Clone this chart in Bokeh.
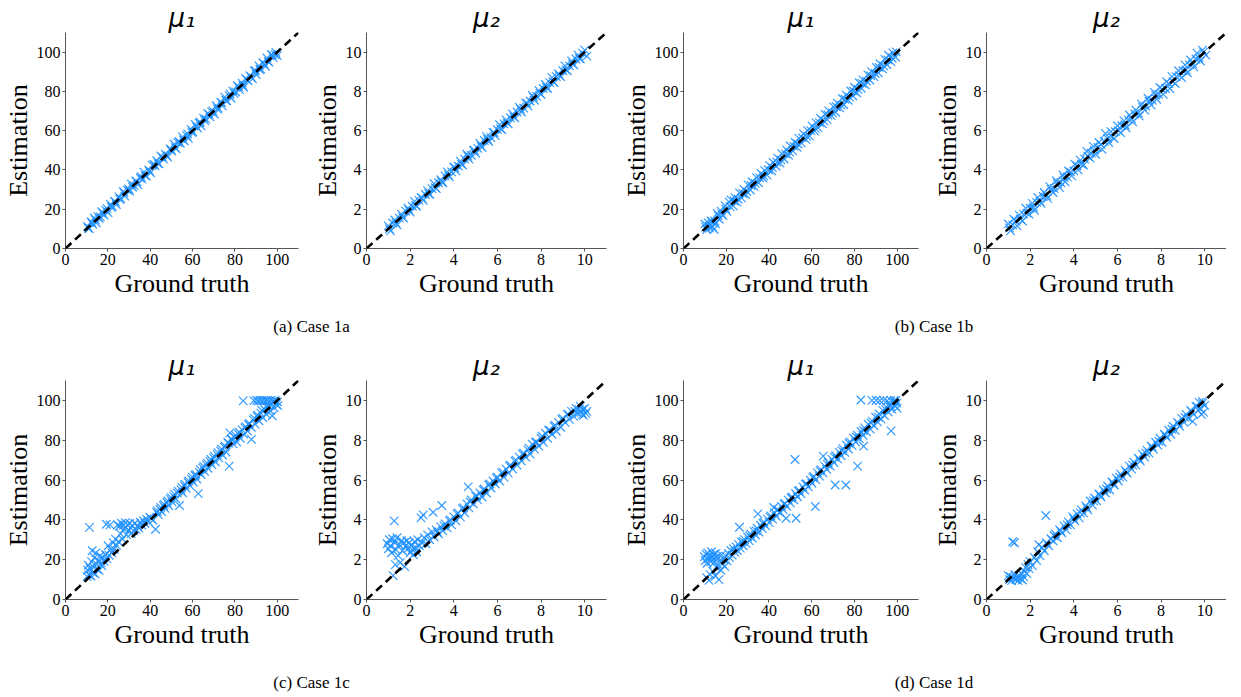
from bokeh.plotting import figure
from bokeh.models import Range1d, FixedTicker, Slope, Div
from bokeh.layouts import row, column
from bokeh.embed import file_html
from bokeh.resources import INLINE

# ---------------- data (ground truth, estimation) ----------------
titles_top = ["μ₁", "μ₂", "μ₁", "μ₂"]
captions = ["(a) Case 1a", "(b) Case 1b", "(c) Case 1c", "(d) Case 1d"]
ticks_mu1 = [0, 20, 40, 60, 80, 100]
ticks_mu2 = [0, 2, 4, 6, 8, 10]

case1a_mu1 = [(10.4, 11.2), (11.2, 10.1), (12.1, 13.6), (12.9, 12.3), (13.6, 15.6), (14.5, 13.1), (15.3, 16.2),
              (16.4, 16.1), (17.1, 18.7), (18.2, 17.0), (19.0, 19.4), (20.1, 18.3), (21.2, 22.5), (22.0, 21.5),
              (23.1, 24.0), (24.0, 22.4), (25.2, 26.3), (26.1, 25.4), (27.3, 29.1), (28.0, 26.7), (29.2, 29.7),
              (30.3, 29.3), (31.1, 32.8), (32.4, 32.0), (33.2, 34.4), (34.1, 32.6), (35.3, 35.9), (36.2, 35.3),
              (37.0, 38.9), (38.1, 36.9), (39.3, 40.0), (40.2, 38.5), (41.0, 42.4), (42.3, 42.1), (43.1, 44.7),
              (44.2, 43.1), (45.0, 47.1), (46.3, 45.5), (47.1, 48.1), (48.2, 46.6), (49.4, 50.7), (50.1, 49.6),
              (51.3, 53.1), (52.2, 50.8), (53.0, 53.9), (54.2, 53.6), (55.3, 56.8), (56.1, 54.8), (57.2, 57.5),
              (58.0, 56.1), (59.3, 60.7), (60.1, 59.4), (61.2, 63.2), (62.4, 61.3), (63.1, 63.9), (64.0, 62.5),
              (65.2, 66.4), (66.3, 65.9), (67.1, 68.8), (68.2, 67.0), (69.0, 69.6), (70.3, 68.5), (71.2, 72.7),
              (72.1, 71.5), (73.3, 74.4), (74.0, 72.6), (75.2, 77.1), (76.1, 75.2), (77.3, 77.7), (78.2, 76.5),
              (79.0, 80.3), (80.3, 79.8), (81.1, 82.9), (82.2, 80.9), (83.4, 84.2), (84.1, 82.1), (85.0, 86.6),
              (86.2, 85.4), (87.1, 88.0), (88.3, 86.4), (89.2, 90.4), (90.0, 88.6), (91.3, 93.0), (92.1, 91.4),
              (93.2, 94.6), (94.4, 92.8), (95.1, 97.0), (96.0, 94.9), (97.2, 98.7), (98.1, 97.2), (99.3, 99.8),
              (100.0, 98.2)]
case1a_mu1_more = [(10.8, 10.3), (12.5, 13.0), (14.1, 14.6), (15.9, 15.2), (17.6, 17.9), (19.6, 20.3), (21.7, 21.0),
                   (23.5, 23.9), (25.6, 25.0), (27.6, 28.2), (29.8, 30.4), (31.7, 31.2), (33.7, 34.0), (35.7, 36.6),
                   (37.6, 37.1), (39.7, 39.3), (41.8, 42.9), (43.7, 43.2), (45.8, 46.4), (47.7, 47.3), (49.9, 50.2),
                   (51.8, 51.4), (53.6, 54.5), (55.7, 55.2), (57.7, 58.4), (59.7, 59.1), (61.8, 62.1), (63.6, 64.3),
                   (65.7, 65.1), (67.7, 68.3), (69.6, 70.1), (71.7, 71.0), (73.7, 74.3), (75.7, 75.5), (77.8, 78.6),
                   (79.6, 79.0), (81.7, 82.4), (83.7, 83.1), (85.7, 86.0), (87.6, 87.2), (89.7, 90.6), (91.7, 91.1),
                   (93.7, 94.0), (95.7, 95.2), (97.6, 98.5), (99.0, 98.6)]

case1a_mu2 = [(1.0, 1.15), (1.1, 0.9), (1.3, 1.45), (1.4, 1.2), (1.6, 1.75), (1.7, 1.55), (1.9, 2.05), (2.0, 1.85),
              (2.2, 2.4), (2.3, 2.15), (2.5, 2.6), (2.6, 2.45), (2.8, 2.95), (2.9, 2.75), (3.1, 3.3), (3.2, 3.05),
              (3.4, 3.5), (3.5, 3.35), (3.7, 3.9), (3.8, 3.65), (4.0, 4.15), (4.1, 3.95), (4.3, 4.45), (4.4, 4.25),
              (4.6, 4.8), (4.7, 4.55), (4.9, 5.0), (5.0, 4.85), (5.2, 5.35), (5.3, 5.15), (5.5, 5.7), (5.6, 5.45),
              (5.8, 5.9), (5.9, 5.75), (6.1, 6.3), (6.2, 6.05), (6.4, 6.55), (6.5, 6.35), (6.7, 6.85), (6.8, 6.65),
              (7.0, 7.2), (7.1, 6.95), (7.3, 7.4), (7.4, 7.25), (7.6, 7.8), (7.7, 7.55), (7.9, 8.05), (8.0, 7.85),
              (8.2, 8.35), (8.3, 8.15), (8.5, 8.7), (8.6, 8.45), (8.8, 8.9), (8.9, 8.75), (9.1, 9.3), (9.2, 9.05),
              (9.4, 9.55), (9.5, 9.35), (9.7, 9.85), (9.8, 9.65), (10.0, 10.1), (10.1, 9.8)]
case1a_mu2_more = [(1.05, 1.0), (1.2, 1.3), (1.35, 1.3), (1.5, 1.55), (1.65, 1.6), (1.8, 1.9), (1.95, 1.95),
                   (2.1, 2.15), (2.25, 2.2), (2.4, 2.45), (2.55, 2.55), (2.7, 2.75), (2.85, 2.8), (3.0, 3.05),
                   (3.15, 3.1), (3.3, 3.35), (3.45, 3.4), (3.6, 3.7), (3.75, 3.75), (3.9, 3.9), (4.05, 4.1),
                   (4.2, 4.2), (4.35, 4.3), (4.5, 4.55), (4.65, 4.7), (4.8, 4.75), (4.95, 5.0), (5.1, 5.1),
                   (5.25, 5.2), (5.4, 5.5), (5.55, 5.55), (5.7, 5.65), (5.85, 5.9), (6.0, 6.05), (6.15, 6.1),
                   (6.3, 6.35), (6.45, 6.4), (6.6, 6.65), (6.75, 6.7), (6.9, 6.95), (7.05, 7.1), (7.2, 7.15),
                   (7.35, 7.4), (7.5, 7.5), (7.65, 7.7), (7.8, 7.75), (7.95, 7.9), (8.1, 8.15), (8.25, 8.2),
                   (8.4, 8.45), (8.55, 8.5), (8.7, 8.75), (8.85, 8.8), (9.0, 9.05), (9.15, 9.1), (9.3, 9.3),
                   (9.45, 9.4), (9.6, 9.65), (9.75, 9.7), (9.9, 9.95)]

case1b_mu1 = [(10.0, 12.5), (10.8, 9.6), (11.5, 13.2), (12.2, 10.4), (12.9, 14.0), (13.5, 11.1), (14.3, 9.8),
              (15.0, 12.6), (15.8, 17.9), (16.7, 14.9), (17.6, 19.0), (18.4, 16.8), (19.5, 21.8), (20.3, 18.9),
              (21.4, 23.6), (22.2, 24.8), (23.3, 21.7), (24.1, 25.9), (25.0, 23.6), (26.2, 28.3), (27.1, 25.8),
              (28.3, 30.1), (29.0, 27.5), (30.2, 32.4), (31.3, 29.8), (32.1, 34.0), (33.0, 31.6), (34.2, 36.1),
              (35.1, 33.5), (36.3, 38.2), (37.2, 35.9), (38.0, 39.7), (39.1, 37.4), (40.3, 42.2), (41.2, 39.6),
              (42.0, 43.8), (43.3, 41.9), (44.1, 46.0), (45.2, 43.5), (46.0, 48.3), (47.1, 45.6), (48.3, 50.1),
              (49.2, 47.4), (50.0, 52.2), (51.1, 49.7), (52.3, 54.0), (53.2, 51.5), (54.0, 56.1), (55.1, 53.8),
              (56.2, 58.4), (57.3, 55.6), (58.1, 60.0), (59.0, 57.2), (60.2, 62.3), (61.3, 59.9), (62.1, 64.0),
              (63.0, 61.4), (64.2, 66.2), (65.1, 63.5), (66.3, 68.3), (67.2, 65.6), (68.0, 70.1), (69.1, 67.8),
              (70.3, 72.1), (71.2, 69.4), (72.0, 74.0), (73.1, 71.6), (74.3, 76.4), (75.0, 73.2), (76.2, 78.1),
              (77.1, 75.5), (78.3, 80.2), (79.2, 77.8), (80.0, 82.1), (81.1, 79.3), (82.3, 84.4), (83.2, 81.6),
              (84.0, 85.9), (85.1, 83.3), (86.3, 88.4), (87.2, 85.8), (88.0, 90.1), (89.1, 87.5), (90.3, 92.2),
              (91.2, 89.4), (92.0, 94.1), (93.1, 91.5), (94.3, 96.3), (95.2, 93.7), (96.0, 98.4), (97.1, 95.2),
              (98.0, 99.6), (99.2, 97.5)]
case1b_mu1_more = [(10.4, 10.9), (11.9, 11.5), (13.2, 13.8), (14.6, 14.0), (16.2, 16.6), (17.9, 17.5), (19.8, 20.1),
                   (21.8, 21.3), (23.7, 24.2), (25.6, 25.1), (27.7, 28.0), (29.6, 29.0), (31.7, 32.1), (33.6, 33.2),
                   (35.7, 36.0), (37.6, 37.0), (39.7, 40.1), (41.6, 41.2), (43.7, 44.0), (45.6, 45.1), (47.7, 48.2),
                   (49.6, 49.1), (51.7, 52.0), (53.6, 53.2), (55.7, 56.3), (57.7, 57.1), (59.6, 60.0), (61.7, 61.2),
                   (63.6, 64.1), (65.7, 65.0), (67.6, 68.0), (69.7, 69.1), (71.6, 72.2), (73.7, 73.0), (75.6, 76.0),
                   (77.7, 77.1), (79.6, 80.2), (81.7, 81.0), (83.6, 84.1), (85.7, 85.2), (87.6, 88.0), (89.7, 89.1),
                   (91.6, 92.2), (93.7, 93.0), (95.6, 96.1), (97.6, 97.0), (99.6, 100.1)]

case1b_mu2 = [(1.0, 1.25), (1.1, 0.9), (1.25, 1.5), (1.4, 1.15), (1.5, 1.7), (1.65, 1.4), (1.8, 2.05), (1.95, 1.75),
              (2.1, 2.3), (2.2, 1.95), (2.35, 2.6), (2.5, 2.3), (2.65, 2.85), (2.8, 2.55), (2.9, 3.15), (3.05, 2.85),
              (3.2, 3.45), (3.35, 3.1), (3.5, 3.75), (3.6, 3.4), (3.75, 3.95), (3.9, 3.7), (4.05, 4.3), (4.2, 4.0),
              (4.3, 4.5), (4.45, 4.25), (4.6, 4.95), (4.75, 4.6), (4.9, 5.2), (5.0, 4.8), (5.15, 5.4), (5.3, 5.05),
              (5.45, 5.85), (5.6, 5.4), (5.7, 5.95), (5.85, 5.6), (6.0, 6.25), (6.15, 5.9), (6.3, 6.5), (6.4, 6.15),
              (6.55, 6.8), (6.7, 6.45), (6.85, 7.05), (7.0, 6.75), (7.1, 7.35), (7.25, 7.05), (7.4, 7.65), (7.55, 7.3),
              (7.7, 7.95), (7.8, 7.6), (7.95, 8.2), (8.1, 7.85), (8.25, 8.5), (8.4, 8.15), (8.5, 8.75), (8.65, 8.4),
              (8.8, 9.05), (8.95, 8.7), (9.1, 9.35), (9.2, 8.95), (9.35, 9.6), (9.5, 9.25), (9.65, 9.95), (9.8, 9.55),
              (9.9, 10.1), (10.05, 9.85)]
case1b_mu2_more = [(1.05, 1.05), (1.2, 1.2), (1.35, 1.4), (1.55, 1.5), (1.7, 1.75), (1.85, 1.8), (2.0, 2.05),
                   (2.15, 2.1), (2.3, 2.35), (2.45, 2.4), (2.6, 2.65), (2.75, 2.7), (2.95, 3.0), (3.1, 3.05),
                   (3.25, 3.3), (3.4, 3.35), (3.55, 3.6), (3.7, 3.65), (3.85, 3.9), (4.0, 3.95), (4.15, 4.2),
                   (4.35, 4.3), (4.5, 4.55), (4.65, 4.7), (4.8, 4.85), (4.95, 5.0), (5.1, 5.15), (5.25, 5.3),
                   (5.4, 5.45), (5.55, 5.6), (5.75, 5.7), (5.9, 5.95), (6.05, 6.0), (6.2, 6.25), (6.35, 6.3),
                   (6.5, 6.55), (6.65, 6.6), (6.8, 6.85), (6.95, 6.9), (7.15, 7.2), (7.3, 7.25), (7.45, 7.5),
                   (7.6, 7.55), (7.75, 7.8), (7.9, 7.85), (8.05, 8.1), (8.2, 8.15), (8.35, 8.4), (8.55, 8.5),
                   (8.7, 8.75), (8.85, 8.8), (9.0, 9.05), (9.15, 9.1), (9.3, 9.35), (9.45, 9.4), (9.6, 9.65),
                   (9.75, 9.7), (9.95, 10.0)]

case1c_mu1 = [(10.2, 11.5), (10.5, 14.8), (10.8, 17.2), (11.0, 12.4), (11.3, 36.2), (11.6, 15.6), (12.0, 11.8),
              (12.3, 19.0), (12.6, 24.5), (12.9, 13.5), (13.3, 16.2), (13.7, 21.0), (14.0, 12.9), (14.3, 23.4),
              (14.7, 17.8), (15.0, 15.2), (15.4, 19.6), (15.9, 14.6), (16.3, 22.0), (16.8, 18.4), (17.2, 16.9),
              (17.7, 20.8), (18.2, 19.2), (18.8, 22.6), (19.3, 37.8), (19.5, 20.4), (20.1, 27.0), (20.6, 22.2),
              (21.0, 37.5), (21.4, 25.1), (21.9, 23.4), (22.5, 28.6), (23.0, 25.2), (23.6, 30.3), (24.1, 27.2),
              (24.6, 37.4), (25.0, 29.0), (25.5, 36.8), (26.0, 33.0), (26.4, 38.3), (26.9, 30.4), (27.3, 37.2),
              (27.8, 35.4), (28.3, 38.6), (28.8, 32.6), (29.3, 37.6), (29.9, 34.8), (30.4, 38.2), (31.0, 33.1),
              (31.5, 36.9), (32.1, 34.5), (32.7, 38.4), (33.3, 35.2), (34.0, 37.0), (34.6, 35.9), (35.3, 38.8),
              (36.0, 37.4), (36.8, 39.6), (37.5, 38.3), (38.3, 40.4), (39.0, 39.2), (39.8, 41.3), (40.5, 40.6),
              (41.3, 39.8), (42.5, 35.3), (43.0, 43.8), (43.8, 42.6), (44.6, 45.2), (45.4, 44.1), (46.2, 47.1),
              (47.0, 45.8), (47.9, 48.6), (48.7, 47.2), (49.5, 50.4), (50.3, 49.0), (51.1, 51.8), (52.0, 50.6),
              (52.8, 53.4), (53.8, 47.2), (54.5, 55.1), (55.3, 53.6), (56.1, 57.2), (57.0, 55.8), (57.8, 58.9),
              (58.6, 57.3), (59.5, 60.4), (60.3, 59.0), (61.1, 62.3), (62.0, 60.5), (62.7, 53.2), (63.2, 64.0),
              (64.0, 62.8), (64.8, 66.1), (65.6, 64.4), (66.5, 67.6), (67.3, 65.9), (68.2, 69.4), (69.0, 67.8),
              (69.9, 71.0), (70.7, 69.2), (71.6, 72.8), (72.4, 71.1), (73.3, 74.6), (74.1, 72.6), (75.0, 76.4),
              (75.8, 74.1), (76.6, 79.0), (77.3, 67.0), (77.6, 83.7), (78.3, 80.6), (79.1, 78.2), (80.0, 81.4),
              (80.8, 79.2), (81.7, 83.0), (82.5, 81.0), (83.4, 85.2), (83.9, 99.8), (84.2, 83.1), (85.1, 86.8),
              (86.0, 84.6), (86.8, 88.4), (87.8, 80.4), (87.7, 86.5), (88.6, 90.2), (88.9, 99.9), (89.5, 88.1),
              (90.2, 100.0), (90.4, 92.0), (91.0, 99.7), (91.3, 89.8), (91.9, 100.0), (92.2, 93.6), (92.8, 99.8),
              (93.1, 91.4), (93.6, 100.0), (94.0, 95.3), (94.5, 99.9), (94.9, 93.0), (95.3, 100.0), (95.8, 97.2),
              (96.2, 99.8), (96.7, 94.8), (97.1, 100.0), (97.6, 92.3), (98.0, 99.6), (98.5, 96.4), (99.0, 100.0),
              (99.5, 98.0), (100.0, 99.3), (100.3, 97.4)]
case1c_mu1_more = [(43.4, 44.5), (45.0, 46.2), (46.6, 47.8), (48.3, 49.5), (49.9, 51.2), (51.5, 52.9), (53.2, 54.4),
                   (54.9, 56.3), (56.5, 57.8), (58.2, 59.6), (59.9, 61.5), (61.5, 62.8), (63.6, 65.2), (65.2, 66.9),
                   (66.9, 68.5), (68.6, 70.3), (70.3, 71.9), (72.0, 73.8), (73.7, 75.5), (75.4, 77.0), (76.9, 78.5),
                   (78.7, 80.0), (80.4, 82.3), (82.0, 84.0), (84.7, 86.2), (86.4, 87.8), (89.2, 91.0), (90.8, 92.6),
                   (92.6, 95.0), (95.0, 96.8), (96.4, 97.9), (98.3, 99.5)]

case1c_mu2 = [(0.95, 2.8), (1.0, 2.55), (1.05, 3.0), (1.1, 2.7), (1.15, 2.35), (1.2, 3.05), (1.22, 1.2),
              (1.27, 3.95), (1.3, 2.85), (1.32, 1.75), (1.35, 2.5), (1.4, 3.1), (1.45, 2.2), (1.5, 2.75),
              (1.55, 1.85), (1.6, 2.95), (1.65, 2.45), (1.7, 2.85), (1.75, 1.65), (1.8, 2.7), (1.85, 2.95),
              (1.9, 2.55), (1.95, 2.85), (2.0, 2.35), (2.05, 2.7), (2.1, 2.5), (2.15, 2.25), (2.2, 2.9),
              (2.25, 2.6), (2.3, 2.4), (2.35, 3.0), (2.42, 2.7), (2.5, 4.1), (2.55, 2.85), (2.6, 4.25),
              (2.65, 3.1), (2.72, 2.8), (2.8, 3.25), (2.9, 3.0), (3.0, 3.4), (3.05, 4.38), (3.1, 3.15),
              (3.2, 3.5), (3.3, 3.3), (3.4, 3.65), (3.45, 4.72), (3.5, 3.45), (3.6, 3.8), (3.7, 3.6),
              (3.8, 3.95), (3.9, 3.75), (4.0, 4.15), (4.1, 3.95), (4.2, 4.35), (4.3, 4.15), (4.4, 4.55),
              (4.5, 4.35), (4.6, 4.8), (4.66, 5.66), (4.7, 4.6), (4.8, 5.0), (4.9, 4.8), (5.0, 5.2), (5.1, 5.0),
              (5.2, 5.35), (5.3, 5.15), (5.4, 5.55), (5.5, 5.35), (5.6, 5.75), (5.7, 5.6), (5.8, 5.95),
              (5.9, 5.8), (6.0, 6.15), (6.1, 5.95), (6.2, 6.35), (6.3, 6.15), (6.4, 6.55), (6.5, 6.35),
              (6.6, 6.75), (6.7, 6.55), (6.8, 6.95), (6.9, 6.75), (7.0, 7.15), (7.1, 6.95), (7.2, 7.35),
              (7.3, 7.15), (7.4, 7.5), (7.5, 7.3), (7.6, 7.8), (7.7, 7.55), (7.8, 7.9), (7.9, 7.7), (8.0, 8.1),
              (8.1, 7.9), (8.2, 8.35), (8.3, 8.1), (8.4, 8.5), (8.5, 8.3), (8.6, 8.7), (8.7, 8.45), (8.8, 8.9),
              (8.9, 8.65), (9.0, 9.1), (9.1, 8.9), (9.2, 9.3), (9.3, 9.05), (9.4, 9.45), (9.5, 9.2), (9.6, 9.6),
              (9.7, 9.35), (9.8, 9.7), (9.85, 9.4), (9.9, 9.55), (9.95, 9.25), (10.0, 9.6), (10.05, 9.35),
              (10.1, 9.45)]
case1c_mu2_more = [(3.25, 3.4), (3.55, 3.7), (3.85, 4.0), (4.15, 4.3), (4.45, 4.6), (4.75, 4.9), (5.05, 5.2),
                   (5.35, 5.5), (5.65, 5.8), (5.95, 6.1), (6.25, 6.4), (6.55, 6.7), (6.85, 7.0), (7.15, 7.3),
                   (7.45, 7.6), (7.75, 7.9), (8.05, 8.2), (8.35, 8.5), (8.65, 8.75), (8.95, 9.05), (9.25, 9.3),
                   (9.55, 9.45), (9.75, 9.55), (9.9, 9.3)]

case1d_mu1 = [(9.8, 21.5), (10.2, 19.6), (10.5, 22.8), (10.8, 11.0), (11.0, 18.2), (11.3, 23.4), (11.6, 20.4),
              (11.9, 9.6), (12.2, 22.0), (12.5, 12.5), (12.8, 19.0), (13.1, 24.0), (13.4, 21.2), (13.7, 14.2),
              (14.0, 22.6), (14.3, 18.6), (14.6, 20.8), (14.9, 11.8), (15.2, 23.2), (15.5, 16.0), (15.8, 21.6),
              (16.2, 17.4), (16.6, 10.0), (17.0, 19.5), (17.4, 14.8), (17.8, 22.4), (18.3, 17.8), (18.8, 20.2),
              (19.3, 16.6), (19.8, 21.8), (20.4, 19.4), (21.0, 23.2), (21.6, 21.0), (22.2, 24.6), (22.8, 22.3),
              (23.4, 25.5), (24.0, 23.8), (24.6, 26.4), (25.2, 24.6), (25.8, 27.6), (26.2, 36.3), (26.6, 25.8),
              (27.2, 28.9), (27.9, 27.0), (28.6, 30.1), (29.3, 28.2), (30.0, 31.4), (30.7, 29.6), (31.5, 32.8),
              (32.2, 30.9), (33.0, 34.2), (33.7, 32.4), (34.5, 35.8), (34.8, 43.0), (35.3, 33.9), (36.1, 37.3),
              (36.9, 35.6), (37.7, 38.8), (38.5, 37.0), (39.3, 40.4), (40.1, 38.6), (40.9, 42.0), (41.7, 40.4),
              (42.3, 46.2), (42.6, 43.6), (43.4, 41.8), (44.2, 45.1), (45.0, 43.6), (45.9, 46.8), (46.7, 45.0),
              (47.5, 48.3), (48.0, 40.8), (48.3, 46.8), (49.1, 49.9), (50.0, 48.5), (50.8, 51.5), (51.6, 50.1),
              (52.2, 70.3), (52.5, 53.1), (52.7, 40.8), (53.3, 51.6), (54.2, 54.8), (55.0, 53.2), (55.9, 56.6),
              (56.7, 55.0), (57.6, 58.2), (58.4, 56.6), (59.3, 60.0), (60.1, 58.4), (61.0, 61.8), (61.7, 46.7),
              (61.9, 60.2), (62.7, 63.6), (63.6, 62.0), (64.4, 65.2), (65.3, 63.6), (65.4, 72.0), (66.1, 67.0),
              (67.0, 65.4), (67.8, 68.8), (68.7, 67.0), (69.5, 70.4), (70.4, 68.8), (71.0, 57.5), (71.2, 72.2),
              (72.1, 70.6), (72.9, 74.0), (73.8, 72.2), (74.6, 75.8), (75.5, 73.9), (76.0, 57.5), (76.3, 77.6),
              (77.2, 75.6), (78.0, 79.2), (78.9, 77.4), (79.7, 81.0), (80.6, 79.1), (81.4, 82.6), (81.5, 67.0),
              (82.3, 80.8), (83.0, 100.2), (83.1, 84.4), (84.0, 82.5), (84.3, 77.0), (84.8, 86.2), (85.7, 84.2),
              (86.5, 88.0), (87.4, 85.6), (88.2, 100.0), (88.3, 89.6), (89.1, 87.4), (89.9, 91.6), (90.2, 100.1),
              (90.8, 89.2), (91.6, 93.2), (91.9, 99.9), (92.5, 90.6), (93.3, 95.0), (93.6, 100.0), (94.1, 92.4),
              (95.0, 96.6), (95.3, 99.8), (95.8, 94.2), (96.6, 98.2), (97.0, 100.0), (97.2, 84.7), (97.5, 95.6),
              (98.3, 99.4), (98.7, 100.0), (99.1, 97.2), (99.8, 98.6), (100.0, 96.0)]
case1d_mu1_more = [(28.0, 29.2), (31.0, 31.9), (34.0, 34.6), (37.2, 38.2), (40.5, 41.4), (43.8, 44.8), (47.1, 47.9),
                   (50.4, 51.0), (53.8, 54.4), (57.1, 57.9), (60.5, 61.2), (63.9, 64.6), (67.3, 67.9), (70.7, 71.4),
                   (74.1, 74.8), (77.5, 78.5), (80.9, 81.6), (84.3, 84.9), (87.8, 88.6), (91.2, 91.6), (94.6, 95.4),
                   (96.8, 97.2), (99.4, 99.9)]

case1d_mu2 = [(1.0, 1.2), (1.05, 1.0), (1.1, 1.15), (1.15, 0.95), (1.2, 2.9), (1.22, 1.1), (1.28, 2.85),
              (1.3, 1.25), (1.35, 1.0), (1.4, 1.1), (1.45, 0.95), (1.5, 1.2), (1.55, 1.05), (1.6, 1.3),
              (1.65, 0.98), (1.7, 1.15), (1.75, 1.4), (1.8, 1.6), (1.85, 1.3), (1.9, 1.75), (1.95, 1.55),
              (2.0, 1.9), (2.1, 1.7), (2.2, 2.1), (2.3, 1.95), (2.35, 2.4), (2.4, 2.75), (2.45, 2.2), (2.55, 2.6),
              (2.65, 2.45), (2.72, 4.22), (2.75, 2.85), (2.85, 2.7), (2.95, 3.05), (3.05, 2.95), (3.15, 3.3),
              (3.25, 3.1), (3.35, 3.5), (3.45, 3.35), (3.55, 3.7), (3.65, 3.5), (3.75, 3.9), (3.85, 3.75),
              (3.95, 4.15), (4.05, 3.95), (4.15, 4.3), (4.25, 4.1), (4.35, 4.5), (4.45, 4.35), (4.55, 4.7),
              (4.65, 4.5), (4.75, 4.95), (4.85, 4.75), (4.95, 5.1), (5.05, 4.95), (5.15, 5.3), (5.25, 5.15),
              (5.35, 5.5), (5.45, 5.35), (5.55, 5.7), (5.65, 5.5), (5.75, 5.9), (5.85, 5.75), (5.95, 6.1),
              (6.05, 5.95), (6.15, 6.3), (6.25, 6.15), (6.35, 6.5), (6.45, 6.35), (6.55, 6.7), (6.65, 6.55),
              (6.75, 6.9), (6.85, 6.75), (6.95, 7.1), (7.05, 6.95), (7.15, 7.3), (7.25, 7.15), (7.35, 7.5),
              (7.45, 7.35), (7.55, 7.7), (7.65, 7.55), (7.75, 7.9), (7.85, 7.75), (7.95, 8.1), (8.05, 7.9),
              (8.15, 8.3), (8.25, 8.15), (8.35, 8.5), (8.45, 8.3), (8.55, 8.7), (8.65, 8.5), (8.75, 8.9),
              (8.85, 8.7), (8.95, 9.1), (9.05, 8.9), (9.15, 9.3), (9.25, 9.1), (9.35, 9.5), (9.45, 8.95),
              (9.5, 9.3), (9.6, 9.7), (9.7, 9.5), (9.75, 9.9), (9.8, 9.6), (9.85, 9.3), (9.9, 9.95), (9.95, 9.4),
              (10.0, 9.75)]
case1d_mu2_more = [(3.1, 3.2), (3.4, 3.45), (3.7, 3.75), (4.0, 4.05), (4.3, 4.35), (4.6, 4.6), (4.9, 4.95),
                   (5.2, 5.25), (5.5, 5.55), (5.8, 5.85), (6.1, 6.15), (6.4, 6.4), (6.7, 6.75), (7.0, 7.05),
                   (7.3, 7.35), (7.6, 7.65), (7.9, 7.95), (8.2, 8.25), (8.5, 8.55), (8.8, 8.85), (9.1, 9.15),
                   (9.4, 9.45), (9.65, 9.7), (9.9, 9.85)]

# ---------------- styling ----------------
SERIF = "Liberation Serif"
BLUE = "#1E90FF"
AXIS = "#555555"


def panel(pairs, vmax, ticks, title, fw, fh, bl, br, bt, bb):
    gt = [p[0] for p in pairs]
    est = [p[1] for p in pairs]
    p = figure(frame_width=fw, frame_height=fh,
               x_range=Range1d(0, vmax), y_range=Range1d(0, vmax),
               output_backend="svg", toolbar_location=None,
               min_border_left=bl, min_border_right=br,
               min_border_top=bt, min_border_bottom=bb,
               title=title)
    p.title.text_font = "DejaVu Sans"
    p.title.text_font_size = "26px"
    p.title.text_font_style = "italic"
    p.title.text_color = "black"
    p.title.align = "center"
    p.title.standoff = 0
    p.outline_line_color = None
    p.xgrid.visible = False
    p.ygrid.visible = False
    p.background_fill_color = "white"
    p.border_fill_color = "white"
    for ax, lab in ((p.xaxis[0], "Ground truth"), (p.yaxis[0], "Estimation")):
        ax.ticker = FixedTicker(ticks=ticks)
        ax.axis_label = lab
        ax.axis_label_text_font = SERIF
        ax.axis_label_text_font_size = "26px"
        ax.axis_label_text_font_style = "normal"
        ax.axis_label_text_color = "black"
        ax.axis_label_standoff = 1
        ax.major_label_text_font = SERIF
        ax.major_label_text_font_size = "16px"
        ax.major_label_text_color = "black"
        ax.major_label_standoff = 2
        ax.axis_line_color = AXIS
        ax.axis_line_width = 1
        ax.major_tick_line_color = AXIS
        ax.major_tick_out = 3
        ax.major_tick_in = 0
        ax.minor_tick_line_color = None
    p.scatter(gt, est, marker="x", size=12, line_color=BLUE, line_width=1.2, line_alpha=0.9)
    p.add_layout(Slope(gradient=1, y_intercept=0, line_color="black",
                       line_width=2.6, line_dash="8 5"))
    return p


def caption(text, width, height, pad):
    return Div(text=f'<div style="width:{width}px;text-align:center;font-family:\'{SERIF}\';'
                    f'font-size:17px;color:black;padding-top:{pad}px;">{text}</div>',
               width=width, height=height)


FH_TOP = 216
FH_BOT = 219
top = row(
    panel(case1a_mu1 + case1a_mu1_more, 110, ticks_mu1, titles_top[0], 233, FH_TOP, 64, 8, 26, 58),
    panel(case1a_mu2 + case1a_mu2_more, 11, ticks_mu2, titles_top[1], 240, FH_TOP, 60, 9, 26, 58),
    panel(case1b_mu1 + case1b_mu1_more, 110, ticks_mu1, titles_top[2], 235, FH_TOP, 68, 8, 26, 58),
    panel(case1b_mu2 + case1b_mu2_more, 11, ticks_mu2, titles_top[3], 240, FH_TOP, 60, 0, 26, 58),
)
cap_top = row(caption(captions[0], 613, 32, 4), caption(captions[1], 612, 32, 4))
bottom = row(
    panel(case1c_mu1 + case1c_mu1_more, 110, ticks_mu1, titles_top[0], 233, FH_BOT, 64, 8, 30, 58),
    panel(case1c_mu2 + case1c_mu2_more, 11, ticks_mu2, titles_top[1], 240, FH_BOT, 60, 9, 30, 58),
    panel(case1d_mu1 + case1d_mu1_more, 110, ticks_mu1, titles_top[2], 235, FH_BOT, 68, 8, 30, 58),
    panel(case1d_mu2 + case1d_mu2_more, 11, ticks_mu2, titles_top[3], 240, FH_BOT, 60, 0, 30, 58),
)
cap_bot = row(caption(captions[2], 613, 28, 9), caption(captions[3], 612, 28, 9))

layout = column(top, cap_top, bottom, cap_bot)

with open("out.html", "w") as f:
    f.write(file_html(layout, INLINE, title="Estimation vs ground truth"))
